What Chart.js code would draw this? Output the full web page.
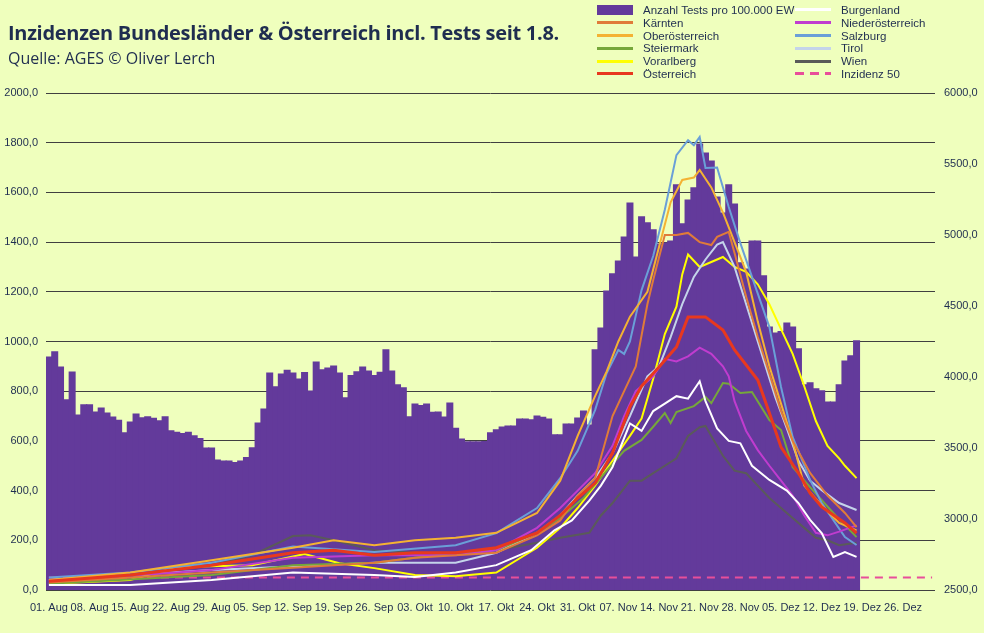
<!DOCTYPE html>
<html>
<head>
<meta charset="utf-8">
<script src="https://cdn.jsdelivr.net/npm/chart.js@4.4.0/dist/chart.umd.min.js"></script>
<style>
  body { margin: 0; background: #efffbd; }
  #wrap { position: relative; width: 984px; height: 633px; background: #efffbd; font-family: "Liberation Sans Narrow", "Liberation Sans", Arial, sans-serif; }
  #title { position: absolute; left: 8px; top: 19px; font: bold 20px "Open Sans", "Noto Sans", sans-serif; color: #1f2d50; letter-spacing: -0.3px; }
  #sub { position: absolute; left: 8px; top: 47px; font: 16px "Open Sans", "Noto Sans", sans-serif; color: #1f2d50; }
  #legend { position: absolute; left: 597px; top: 4px; font-size: 11.5px; color: #1f2d50; }
  .it { position: absolute; white-space: nowrap; height: 13px; line-height: 13px; }
  .sw { display: inline-block; width: 36px; height: 3px; vertical-align: middle; margin-right: 10px; margin-top: -2px; }
  canvas { position: absolute; left: 0; top: 0; }
</style>
</head>
<body>
<div id="wrap">
  <canvas id="myChart" width="984" height="633"></canvas>
  <div id="title">Inzidenzen Bundesländer &amp; Österreich incl. Tests seit 1.8.</div>
  <div id="sub">Quelle: AGES © Oliver Lerch</div>
  <div id="legend"></div>
</div>
<script>
// Anzahl Tests pro 100.000 EW, daily from 01. Aug (right axis)
const tests = [4140,4177,4070,3839,4035,3732,3804,3804,3753,3781,
  3746,3718,3695,3606,3683,3739,3713,3720,3708,3692,
  3720,3620,3611,3601,3611,3585,3566,3499,3499,3415,
  3407,3407,3398,3408,3433,3501,3676,3774,4028,3930,
  4021,4047,4028,3986,4031,3900,4105,4051,4063,4077,
  4028,3853,4009,4037,4070,4042,4009,4033,4191,4042,
  3944,3923,3720,3809,3799,3809,3751,
  3753,3718,3816,3639,3562,3543,3543,3543,3545,3606,
  3627,3648,3655,3655,3704,3704,3699,3725,3716,3704,
  3592,3592,3669,3669,3711,3760,3662,
  4191,4345,4605,4726,4817,4985,5225,4845,5127,5085,
  5036,4936,4943,4957,5353,5078,5246,5332,5641,5577,
  5521,5267,5155,5353,5218,4803,4759,4957,4957,4712,
  4352,4310,4320,4380,4352,4198,3944,3958,3916,3902,
  3823,3823,3944,4112,4149,4254];

// incidence series: [day since 01. Aug, value]
const burgenland = [[0,20],[14,20],[28,40],[42,70],[56,60],[63,52],[70,70],[77,100],[83,160],[87,240],[90,280],[93,360],[95,420],[97,495],[100,670],[102,640],[104,720],[106,750],[108,780],[110,770],[112,840],[113,760],[115,650],[117,600],[119,590],[121,500],[124,443],[127,400],[129,350],[131,282],[133,229],[135,133],[137,153],[139,133]];
const kaernten = [[0,30],[14,50],[28,70],[42,90],[56,110],[63,130],[70,140],[77,150],[84,220],[88,280],[91,380],[94,450],[97,700],[99,800],[101,900],[103,1150],[104,1247],[106,1429],[108,1429],[110,1437],[112,1400],[114,1388],[115,1421],[117,1441],[118,1356],[120,1180],[122,1018],[124,870],[126,720],[128,600],[131,471],[134,380],[137,310],[139,253]];
const ooe = [[0,40],[14,70],[28,120],[42,170],[49,200],[56,180],[63,200],[70,210],[77,230],[84,310],[88,440],[91,620],[94,780],[96,880],[98,1000],[100,1100],[103,1200],[105,1380],[107,1560],[109,1650],[111,1660],[112,1690],[114,1620],[116,1520],[118,1400],[120,1280],[122,1080],[124,900],[126,750],[128,600],[130,420],[133,340],[136,270],[139,240]];
const steiermark = [[0,25],[28,60],[42,100],[56,110],[70,150],[77,160],[84,230],[88,290],[92,370],[96,480],[99,560],[102,604],[104,657],[106,712],[107,672],[108,716],[111,740],[113,777],[114,752],[116,833],[117,830],[119,793],[121,797],[124,684],[126,644],[128,495],[131,414],[135,310],[139,213]];
const vorarlberg = [[0,25],[14,40],[22,93],[35,100],[44,145],[50,108],[56,88],[63,60],[70,55],[77,70],[84,170],[88,250],[91,330],[94,420],[97,520],[100,620],[102,690],[104,850],[106,1030],[108,1140],[109,1270],[110,1350],[112,1300],[114,1320],[116,1340],[118,1300],[120,1280],[122,1230],[124,1150],[126,1050],[128,950],[130,820],[132,680],[134,580],[136,530],[137,500],[139,450]];
const oesterreich = [[0,35],[14,60],[28,100],[42,150],[49,160],[56,140],[63,150],[70,150],[77,170],[84,230],[88,300],[91,370],[94,430],[97,551],[100,737],[102,820],[105,897],[108,978],[110,1099],[113,1099],[116,1046],[118,966],[122,845],[124,712],[126,575],[129,471],[131,390],[133,334],[137,270],[139,229]];
const noe = [[0,35],[28,80],[42,130],[56,140],[70,140],[77,160],[84,250],[88,330],[91,400],[94,470],[97,580],[99,700],[101,800],[104,860],[106,930],[108,920],[110,940],[112,975],[114,950],[116,900],[117,860],[118,760],[120,640],[122,563],[124,500],[126,440],[128,380],[130,300],[132,230],[134,220],[136,235],[139,260]];
const salzburg = [[0,50],[14,70],[28,110],[42,175],[56,153],[70,180],[77,229],[84,330],[88,450],[91,560],[94,724],[96,873],[98,966],[99,950],[100,1000],[102,1207],[104,1344],[106,1530],[108,1750],[110,1810],[111,1790],[112,1823],[113,1698],[115,1700],[117,1541],[119,1396],[121,1260],[124,1058],[126,817],[128,616],[131,443],[133,350],[137,213],[139,181]];
const tirol = [[0,40],[28,80],[56,110],[70,110],[77,150],[84,230],[88,300],[91,380],[94,450],[97,550],[100,700],[103,860],[105,900],[107,1018],[109,1150],[111,1260],[113,1330],[115,1390],[116,1400],[118,1300],[120,1150],[122,1000],[125,777],[127,650],[129,520],[131,440],[133,402],[136,350],[139,322]];
const wien = [[0,40],[14,60],[28,100],[35,140],[42,217],[45,220],[49,200],[56,160],[63,150],[70,150],[77,160],[84,190],[88,210],[93,230],[95,300],[97,350],[100,440],[102,440],[104,470],[106,500],[108,530],[110,620],[112,655],[113,660],[114,620],[116,540],[118,480],[120,470],[122,420],[124,370],[126,330],[128,290],[130,250],[132,210],[134,200],[136,180],[139,190]];
const inzidenz50 = [[0,50],[152,50]];

const months = ["Jan","Feb","Mär","Apr","Mai","Jun","Jul","Aug","Sep","Okt","Nov","Dez"];
const fmt = v => v.toFixed(1).replace(".", ",");
const pts = arr => arr.map(p => ({x: p[0], y: p[1]}));
const tickFont = { family: '"Liberation Sans Narrow", Arial', size: 11 };

const lines = [
  ["Burgenland", burgenland, "#ffffff", 2],
  ["Kärnten", kaernten, "#e07b39", 2],
  ["Niederösterreich", noe, "#c03ccf", 2],
  ["Oberösterreich", ooe, "#f4b233", 2],
  ["Salzburg", salzburg, "#6a9fd8", 2],
  ["Steiermark", steiermark, "#76a73a", 2],
  ["Tirol", tirol, "#c4d4ea", 2],
  ["Vorarlberg", vorarlberg, "#ffff00", 2],
  ["Wien", wien, "#5a5a5a", 2],
  ["Österreich", oesterreich, "#e8381e", 3]
];

const datasets = [{
  type: 'bar', label: 'Anzahl Tests pro 100.000 EW',
  data: tests.map((v, i) => ({x: i, y: v})),
  yAxisID: 'y2', backgroundColor: '#633a9b', borderWidth: 0,
  barPercentage: 1, categoryPercentage: 1, order: 20, inflateAmount: 0.6
}];
lines.forEach(l => datasets.push({
  type: 'line', label: l[0], data: pts(l[1]), yAxisID: 'y',
  borderColor: l[2], borderWidth: l[3], pointRadius: 0, tension: 0,
  order: l[0] === "Österreich" ? 0 : 1
}));
datasets.push({
  type: 'line', label: 'Inzidenz 50', data: pts(inzidenz50), yAxisID: 'y',
  borderColor: '#e84e9a', borderWidth: 2, borderDash: [8, 6], pointRadius: 0, order: 2
});

// html legend
const legendItems = [
  ["Anzahl Tests pro 100.000 EW", "#633a9b", "bar"], ["Burgenland", "#ffffff"],
  ["Kärnten", "#e07b39"], ["Niederösterreich", "#c03ccf"],
  ["Oberösterreich", "#f4b233"], ["Salzburg", "#6a9fd8"],
  ["Steiermark", "#76a73a"], ["Tirol", "#c4d4ea"],
  ["Vorarlberg", "#ffff00"], ["Wien", "#5a5a5a"],
  ["Österreich", "#e8381e"], ["Inzidenz 50", "#e84e9a", "dash"]
];
const legend = document.getElementById('legend');
legendItems.forEach((it, i) => {
  const d = document.createElement('div');
  d.className = 'it';
  d.style.left = (i % 2 ? 198 : 0) + 'px';
  d.style.top = (Math.floor(i / 2) * 12.8) + 'px';
  let sw = '<span class="sw" style="background:' + it[1] + '"></span>';
  if (it[2] === 'bar') sw = '<span class="sw" style="background:' + it[1] + ';height:10px"></span>';
  if (it[2] === 'dash') sw = '<span class="sw" style="background:repeating-linear-gradient(90deg,' + it[1] + ' 0 9px,transparent 9px 15px)"></span>';
  d.innerHTML = sw + it[0];
  legend.appendChild(d);
});

const ctx = document.getElementById('myChart').getContext('2d');
new Chart(ctx, {
  data: { datasets: datasets },
  options: {
    responsive: false, animation: false,
    layout: { autoPadding: false, padding: { top: 93, left: 0, right: 0, bottom: 0 } },
    plugins: { legend: { display: false }, tooltip: { enabled: false } },
    scales: {
      x: {
        type: 'linear', min: -0.5, max: 152.5, offset: false,
        grid: { display: false }, border: { display: false },
        afterBuildTicks: s => { s.ticks = []; for (let d = 0; d <= 147; d += 7) s.ticks.push({value: d}); },
        afterFit: s => { s.height = 43; s.paddingLeft = 0; s.paddingRight = 0; },
        ticks: {
          autoSkip: false, maxRotation: 0, padding: 3, color: '#1f2d50', font: tickFont,
          callback: v => { const dt = new Date(2020, 7, 1 + v); return String(dt.getDate()).padStart(2, "0") + ". " + months[dt.getMonth()]; }
        }
      },
      y: {
        position: 'left', min: 0, max: 2000,
        afterFit: s => { s.width = 46; s.paddingTop = 0; s.paddingBottom = 0; },
        grid: { color: '#404040', lineWidth: 1, drawTicks: false },
        border: { display: false },
        ticks: { stepSize: 200, padding: 8, color: '#1f2d50', font: tickFont, callback: v => fmt(v) }
      },
      y2: {
        position: 'right', min: 2500, max: 6000,
        afterFit: s => { s.width = 49; s.paddingTop = 0; s.paddingBottom = 0; },
        grid: { display: false }, border: { display: false },
        ticks: { stepSize: 500, padding: 1, color: '#1f2d50', font: tickFont, callback: v => fmt(v) }
      }
    }
  }
});
</script>
</body>
</html>
